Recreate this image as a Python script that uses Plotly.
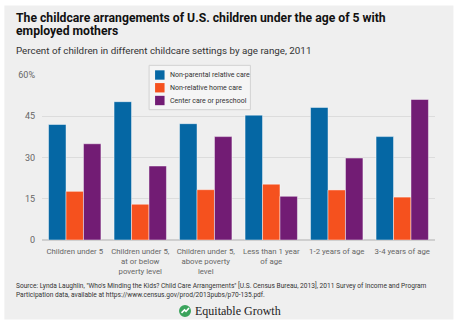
import plotly.graph_objects as go

categories = [
    "Children under 5",
    "Children under 5,<br>at or below<br>poverty level",
    "Children under 5,<br>above poverty<br>level",
    "Less than 1 year<br>of age",
    "1-2 years of age",
    "3-4 years of age",
]
series_names = ["Non-parental relative care", "Non-relative home care", "Center care or preschool"]
relative_care = [42.0, 50.3, 42.3, 45.4, 48.2, 37.6]
nonrelative_home = [17.7, 13.0, 18.3, 20.3, 18.2, 15.6]
center_care = [35.0, 26.9, 37.6, 15.9, 29.8, 51.1]
y_tickvals = [0, 15, 30, 45, 60]
y_ticktext = ["0", "15", "30", "45", "60%"]

colors = ["#0567a4", "#f5511e", "#721c74"]
FONT = "Roboto, sans-serif"

W, H = 454, 320
L, R, T, B = 41.7, 18.5, 74.7, 79.7
PW, PH = W - L - R, H - T - B

def px(x):
    return (x - L) / PW

def py(y):
    return (H - B - y) / PH

fig = go.Figure()
for name, vals, c in zip(series_names, [relative_care, nonrelative_home, center_care], colors):
    fig.add_trace(go.Bar(
        x=categories, y=vals, name=name,
        marker=dict(color=c, line=dict(color="rgba(255,255,255,0.45)", width=1)),
    ))

annotations = [
    dict(text="<b>The childcare arrangements of U.S. children under the age of 5 with</b>",
         x=px(14), y=py(27), xanchor="left", yanchor="bottom",
         font=dict(size=12.2, color="#111111", family=FONT)),
    dict(text="<b>employed mothers</b>",
         x=px(14), y=py(40), xanchor="left", yanchor="bottom",
         font=dict(size=12.2, color="#111111", family=FONT)),
    dict(text="Percent of children in different childcare settings by age range, 2011",
         x=px(14), y=py(50), xanchor="left", yanchor="middle",
         font=dict(size=9.8, color="#333333", family=FONT)),
    dict(text="Source: Lynda Laughlin, \"Who's Minding the Kids? Child Care Arrangements\" [U.S. Census Bureau, 2013], 2011 Survey of Income and Program"
              "<br>Participation data, available at https://www.census.gov/prod/2013pubs/p70-135.pdf.",
         x=px(14), y=py(290.2), xanchor="left", yanchor="middle",
         font=dict(size=6.6, color="#333333", family=FONT)),
    dict(text="Equitable Growth",
         x=px(193), y=py(311.5), xanchor="left", yanchor="middle",
         font=dict(size=12, color="#222222", family="Liberation Serif, DejaVu Serif, serif")),
]

shapes = [
    dict(type="rect", xref="paper", yref="paper", x0=px(4), x1=px(454), y0=py(5), y1=py(320),
         fillcolor="#efefef", line=dict(width=0), layer="below"),
    dict(type="circle", xref="paper", yref="paper", x0=px(179), x1=px(191), y0=py(305.5), y1=py(317.5),
         fillcolor="#3aa35b", line=dict(width=0)),
    dict(type="path", xref="paper", yref="paper",
         path=f"M {px(181.5)} {py(313.5)} L {px(184.5)} {py(310.5)} L {px(186)} {py(312)} L {px(189)} {py(308.5)}",
         line=dict(color="white", width=1.6)),
    # legend box
    dict(type="rect", xref="paper", yref="paper", x0=px(149), x1=px(250.5), y0=py(65), y1=py(109.5),
         fillcolor="#f5f5f5", line=dict(color="#d2d2d2", width=1)),
]

# manual legend entries
for i, (name, c) in enumerate(zip(series_names, colors)):
    yc = 74.7 + i * 12.8
    shapes.append(dict(type="rect", xref="paper", yref="paper",
                       x0=px(155), x1=px(164.5), y0=py(yc - 4.7), y1=py(yc + 4.7),
                       fillcolor=c, line=dict(width=0)))
    annotations.append(dict(text=name, x=px(167.5), y=py(yc), xanchor="left", yanchor="middle",
                            font=dict(size=7.0, color="#333333", family=FONT)))

for a in annotations:
    a.update(xref="paper", yref="paper", showarrow=False, align="left")

fig.update_layout(
    width=W, height=H,
    margin=dict(l=L, r=R, t=T, b=B, pad=0),
    paper_bgcolor="white", plot_bgcolor="rgba(0,0,0,0)",
    barmode="group", bargap=0.2, bargroupgap=0,
    font=dict(family=FONT, color="#666666"),
    showlegend=False,
    xaxis=dict(showgrid=False, showline=False, ticks="", tickangle=0, ticklabelstandoff=5,
               tickfont=dict(size=7.8, color="#666666"), zeroline=False),
    yaxis=dict(range=[0, 60], tickvals=y_tickvals, ticktext=y_ticktext,
               showgrid=True, gridcolor="#dcdcdc", gridwidth=1, zeroline=True, zerolinecolor="#cfcfcf",
               showline=False, ticks="", ticklabelstandoff=6,
               tickfont=dict(size=9, color="#666666")),
    annotations=annotations, shapes=shapes,
)

fig.write_html("out.html")
